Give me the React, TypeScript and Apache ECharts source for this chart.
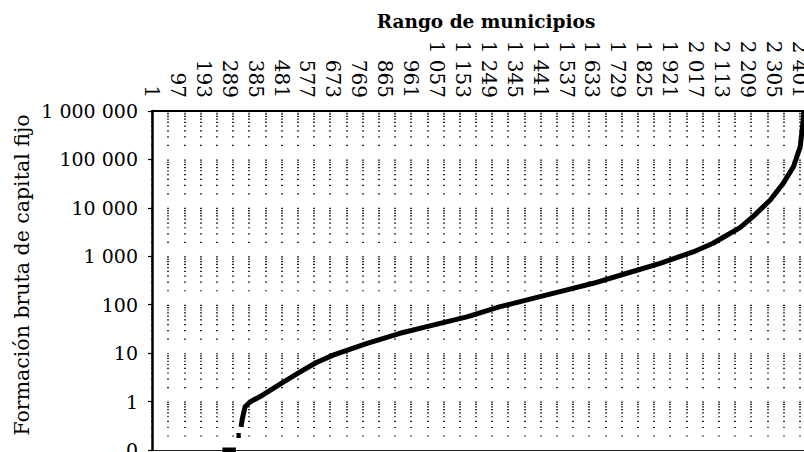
import React, { useEffect, useRef } from "react";
import * as echarts from "echarts";

// Category axis: rank of municipality (1 .. 2417)
const TOTAL_MUNICIPIOS = 2417;
const rangos: string[] = Array.from({ length: TOTAL_MUNICIPIOS }, (_, i) => String(i + 1));

// Points (rank, value); null marks a break in the line
const rankPoints: (number | null)[] = [
  262, 312, null,
  314, 330, null,
  331, 336, 346, 364, 412, 486, 550, 610, 672, 798, 920, 1042, 1168, 1291,
  1413, 1513, 1636, 1761, 1884, 2006, 2080, 2120, 2180, 2228, 2292, 2340,
  2378, 2403, 2414, 2417,
];
const fbcfValues: (number | null)[] = [
  0.1, 0.1, null,
  0.2, 0.2, null,
  0.3, 0.45, 0.78, 0.98, 1.37, 2.5, 4.1, 6.4, 9.1, 15.9, 25.7, 38, 56, 91,
  135, 186, 277, 446, 716, 1230, 1860, 2500, 3900, 6600, 14500, 32000,
  71000, 182000, 650000, 1000000,
];

const Y_MIN = 0.1;
const Y_MAX = 1000000;

const TITLE = "Rango de municipios";
const Y_NAME = "Formación bruta de capital fijo";

function fmtThousands(n: number): string {
  const s = String(Math.round(n));
  return s.replace(/\B(?=(\d{3})+(?!\d))/g, " ");
}

export default function App() {
  const ref = useRef<HTMLDivElement>(null);
  useEffect(() => {
    if (!ref.current) return;
    const chart = echarts.init(ref.current, null, { renderer: "svg" });

    const gridTop = 111;
    const gridBottom = 2;
    const gridHeight = 452 - gridTop - gridBottom;
    const decadePx = gridHeight / 7;
    // dotted pattern on the vertical grid lines, one dash per log minor position
    const marks = [10, 9, 8, 7, 6, 5, 4, 3, 2].map((m) => decadePx * (1 - Math.log10(m)));
    const dashLen = 1.2;
    const dash: number[] = [];
    for (let i = 0; i < marks.length; i++) {
      const next = i < marks.length - 1 ? marks[i + 1] : decadePx;
      dash.push(dashLen, next - marks[i] - dashLen);
    }

    const data = rankPoints.map((r, i) =>
      r === null || fbcfValues[i] === null ? ["-", "-"] : [r - 1, fbcfValues[i]]
    );

    chart.setOption({
      animation: false,
      backgroundColor: "#ffffff",
      grid: {
        left: 152,
        right: 0,
        top: gridTop,
        bottom: gridBottom,
        containLabel: false,
        outerBoundsMode: "none",
      },
      xAxis: [
        {
          type: "category",
          position: "top",
          data: rangos,
          boundaryGap: false,
          axisLine: { show: true, lineStyle: { color: "#000", width: 2 } },
          axisTick: { show: false },
          axisLabel: {
            interval: 95,
            rotate: 90,
            margin: 13,
            color: "#000",
            fontFamily: "DejaVu Serif",
            fontSize: 20,
            formatter: (v: string) => fmtThousands(Number(v)),
          },
          splitLine: {
            show: true,
            interval: 59,
            lineStyle: { color: "#111", width: 1.8, type: dash },
          },
        },
        {
          type: "category",
          position: "bottom",
          data: rangos,
          boundaryGap: false,
          axisLine: { show: true, lineStyle: { color: "#222", width: 1.2 } },
          axisTick: { show: false },
          axisLabel: { show: false },
          splitLine: { show: false },
        },
      ],
      yAxis: {
        type: "log",
        logBase: 10,
        min: Y_MIN,
        max: Y_MAX,
        axisLine: { show: true, lineStyle: { color: "#000", width: 2.5 } },
        axisTick: { show: true, inside: false, length: 4, lineStyle: { color: "#000", width: 1.2 } },
        splitLine: { show: false },
        axisLabel: {
          margin: 14,
          color: "#000",
          fontFamily: "DejaVu Serif",
          fontSize: 19,
          formatter: (v: number) => (v < 1 ? "0" : fmtThousands(v)),
        },
      },
      graphic: [
        {
          type: "text",
          x: 486,
          y: 21,
          style: {
            text: TITLE,
            font: "bold 18.5px 'DejaVu Serif'",
            fill: "#000",
            textAlign: "center",
            textVerticalAlign: "middle",
          },
        },
        {
          type: "text",
          x: 22,
          y: 275,
          rotation: Math.PI / 2,
          style: {
            text: Y_NAME,
            font: "20.5px 'DejaVu Serif'",
            fill: "#000",
            textAlign: "center",
            textVerticalAlign: "middle",
          },
        },
      ],
      series: [
        {
          type: "line",
          xAxisIndex: 0,
          data,
          showSymbol: false,
          symbol: "none",
          connectNulls: false,
          lineStyle: { color: "#000", width: 5, join: "round" },
          z: 5,
        },
      ],
    });
    return () => chart.dispose();
  }, []);
  return (
    <div
      ref={ref}
      style={{ position: "absolute", left: 0, top: 0, width: 804, height: 452 }}
    />
  );
}
